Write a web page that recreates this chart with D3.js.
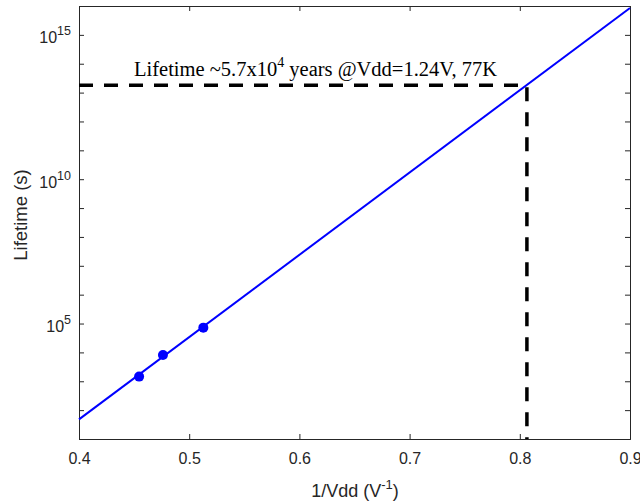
<!DOCTYPE html>
<html>
<head>
<meta charset="utf-8">
<script src="https://cdn.jsdelivr.net/npm/d3@7"></script>
<style>
  html, body { margin: 0; padding: 0; background: #fff; }
  svg { display: block; }
</style>
</head>
<body>
<svg id="chart" width="640" height="503"></svg>
<script>
// Measured lifetimes at three supply voltages (1/Vdd in V^-1, lifetime in s)
const invVdd = [1 / 2.2, 1 / 2.1, 1 / 1.95];
const lifetime = [1.45e3, 8.1e3, 7.2e4];

// Exponential fit, evaluated at the ends of the x range
const fitInvVdd = [0.4, 0.9];
const fitLifetime = [48, 8.5e15];

// Extrapolated operating point
const opInvVdd = 1 / 1.24;
const opLifetime = 1.8e13;
const opLabel = ["Lifetime ~5.7x10", "4", " years @Vdd=1.24V, 77K"];

const xTicks = [0.4, 0.5, 0.6, 0.7, 0.8, 0.9];
const yTicks = d3.range(1, 17).map(e => Math.pow(10, e));
const yLabelled = [1e5, 1e10, 1e15];

const svg = d3.select("#chart");
const m = { left: 79, right: 630, top: 6, bottom: 439 };

const x = d3.scaleLinear().domain([0.4, 0.9]).range([m.left, m.right]);
const y = d3.scaleLog().domain([1e1, 1e16]).range([m.bottom, m.top]);

const axisColor = "#262626";
const sans = "Liberation Sans, Arial, sans-serif";

// Axes on all four sides
const none = () => "";
const gx = svg.append("g").attr("transform", `translate(0,${m.bottom})`)
  .call(d3.axisBottom(x).tickValues(xTicks).tickSize(-5).tickPadding(13.5).tickFormat(d3.format(".1f")));
const gxt = svg.append("g").attr("transform", `translate(0,${m.top})`)
  .call(d3.axisTop(x).tickValues(xTicks).tickSize(-5).tickFormat(none));
const gy = svg.append("g").attr("transform", `translate(${m.left},0)`)
  .call(d3.axisLeft(y).tickValues(yTicks).tickSize(-5).tickFormat(none));
const gyr = svg.append("g").attr("transform", `translate(${m.right},0)`)
  .call(d3.axisRight(y).tickValues(yTicks).tickSize(-5).tickFormat(none));

[gx, gxt, gy, gyr].forEach(g => {
  g.attr("font-family", sans).attr("font-size", 16);
  g.select(".domain").attr("stroke", axisColor).attr("stroke-width", 1);
  g.selectAll(".tick line").attr("stroke", axisColor);
  g.selectAll("text").attr("fill", axisColor);
});

// Power-of-ten labels on the y axis
const yl = svg.append("g").attr("font-family", sans).attr("fill", axisColor);
yLabelled.forEach(v => {
  const t = yl.append("text")
    .attr("x", m.left - 8)
    .attr("y", y(v) + 8.5)
    .attr("text-anchor", "end")
    .attr("font-size", 16);
  t.append("tspan").text("10");
  t.append("tspan").attr("dy", -8).attr("font-size", 12.5).text(Math.round(Math.log10(v)));
});

// Axis titles
svg.append("text")
  .attr("x", 355).attr("y", 497)
  .attr("text-anchor", "middle")
  .attr("font-family", sans)
  .attr("font-size", 18).attr("fill", axisColor)
  .call(t => {
    t.append("tspan").text("1/Vdd (V");
    t.append("tspan").attr("dy", -8).attr("font-size", 13).text("-1");
    t.append("tspan").attr("dy", 8).text(")");
  });

svg.append("text")
  .attr("transform", `translate(27,215) rotate(-90)`)
  .attr("text-anchor", "middle")
  .attr("font-family", sans)
  .attr("font-size", 18.5).attr("fill", axisColor)
  .text("Lifetime (s)");

const plot = svg.append("g");

// Dashed guides to the operating point
plot.append("path")
  .attr("d", d3.line()([[x(0.4), y(opLifetime)], [x(opInvVdd), y(opLifetime)], [x(opInvVdd), y(1e1)]]))
  .attr("fill", "none").attr("stroke", "#000").attr("stroke-width", 3.5)
  .attr("stroke-dasharray", "14,11");

// Fit line
plot.append("path")
  .datum(fitInvVdd.map((d, i) => [d, fitLifetime[i]]))
  .attr("d", d3.line().x(d => x(d[0])).y(d => y(d[1])))
  .attr("fill", "none").attr("stroke", "#0000ff").attr("stroke-width", 2);

// Measured points
plot.selectAll("circle")
  .data(invVdd.map((d, i) => [d, lifetime[i]]))
  .join("circle")
  .attr("cx", d => x(d[0])).attr("cy", d => y(d[1]))
  .attr("r", 5).attr("fill", "#0000ff");

// Annotation
svg.append("text")
  .attr("x", 315.5).attr("y", 76)
  .attr("text-anchor", "middle")
  .attr("font-family", "Liberation Serif, Times New Roman, serif")
  .attr("font-size", 20.5).attr("fill", "#000")
  .call(t => {
    t.append("tspan").text(opLabel[0]);
    t.append("tspan").attr("dy", -9).attr("font-size", 14).text(opLabel[1]);
    t.append("tspan").attr("dy", 9).text(opLabel[2]);
  });
</script>
</body>
</html>
